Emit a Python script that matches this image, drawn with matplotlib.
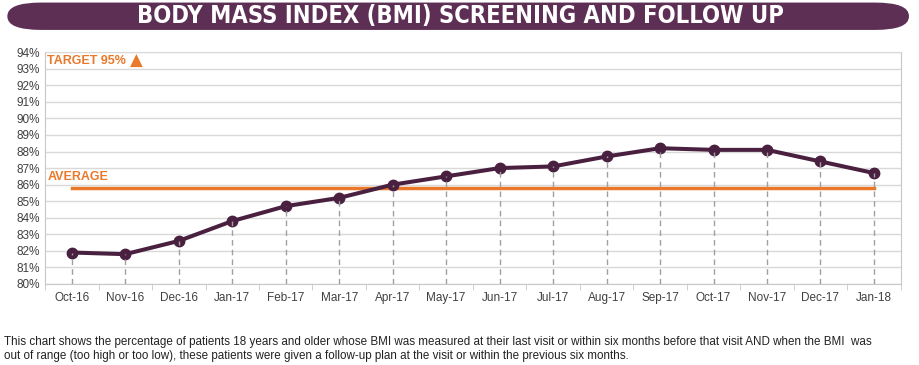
import matplotlib.pyplot as plt
from matplotlib.patches import FancyBboxPatch

months = ['Oct-16', 'Nov-16', 'Dec-16', 'Jan-17', 'Feb-17', 'Mar-17', 'Apr-17', 'May-17',
          'Jun-17', 'Jul-17', 'Aug-17', 'Sep-17', 'Oct-17', 'Nov-17', 'Dec-17', 'Jan-18']
bmi_rate = [81.9, 81.8, 82.6, 83.8, 84.7, 85.2, 86.0, 86.5,
            87.0, 87.1, 87.7, 88.2, 88.1, 88.1, 87.4, 86.7]
average = 85.8
target = 95
y_ticks = list(range(80, 95))

purple = '#4a2040'
banner = '#5e2f55'
orange = '#e9782a'
grey_txt = '#404040'

fig = plt.figure(figsize=(9.2, 3.65), dpi=100)

# title banner
fig.patches.append(FancyBboxPatch((0.008, 0.918), 0.98, 0.075, boxstyle='round,pad=0,rounding_size=0.037',
                                  transform=fig.transFigure, facecolor=banner, edgecolor='none',
                                  mutation_aspect=3.65 / 9.2 * 2.5))
fig.text(0.5, 0.955, 'BODY MASS INDEX (BMI) SCREENING AND FOLLOW UP', ha='center', va='center',
         color='white', fontsize=17, fontweight='bold', family='DejaVu Sans', fontstretch='condensed')

ax = fig.add_axes([0.049, 0.222, 0.930, 0.635])
x = list(range(len(months)))

for xi in x:
    ax.plot([xi, xi], [80, bmi_rate[xi]], color='#a0a0a0', lw=1, ls=(0, (4, 3)), zorder=4)

ax.plot([x[0], x[-1]], [average, average], color=orange, lw=2.5, zorder=2)
ax.plot(x, bmi_rate, color=purple, lw=2.9, marker='o', ms=7.5, zorder=3)

ax.set_xlim(-0.5, len(months) - 0.5)
ax.set_ylim(80, 94)
ax.set_yticks(y_ticks)
ax.set_yticklabels([f'{v}%' for v in y_ticks], fontsize=8.5, color=grey_txt, family='Liberation Sans')
ax.set_xticks(x)
ax.set_xticklabels(months, fontsize=8.5, color=grey_txt, family='Liberation Sans')
ax.set_xticks([v - 0.5 for v in x] + [len(months) - 0.5], minor=True)
ax.tick_params(axis='x', which='major', length=0, pad=6)
ax.tick_params(axis='x', which='minor', length=4, color='#c8c8c8')
ax.tick_params(axis='y', length=0, pad=4)
ax.grid(axis='y', color='#d9d9d9', lw=1)
ax.set_axisbelow(True)
for s in ax.spines.values():
    s.set_color('#c8c8c8')
ax.spines['top'].set_color('#d9d9d9')

t = ax.text(-0.46, 93.45, f'TARGET {target}% ', color=orange, fontsize=9, fontweight='bold',
            va='center', family='Liberation Sans')
ax.annotate('\u25b2', xy=(1, 0.5), xycoords=t, va='center', ha='left', color=orange, fontsize=12,
            family='DejaVu Sans')
ax.text(-0.46, 86.45, 'AVERAGE', color=orange, fontsize=9, fontweight='bold', va='center',
        family='Liberation Sans')

note = ('This chart shows the percentage of patients 18 years and older whose BMI was measured at their last visit '
        'or within six months before that visit AND when the BMI  was\n'
        'out of range (too high or too low), these patients were given a follow-up plan at the visit or within '
        'the previous six months.')
fig.text(0.004, 0.008, note, fontsize=8.4, color='#222222', family='Liberation Sans', va='bottom',
         linespacing=1.25)

plt.savefig('out.png', dpi=100)
